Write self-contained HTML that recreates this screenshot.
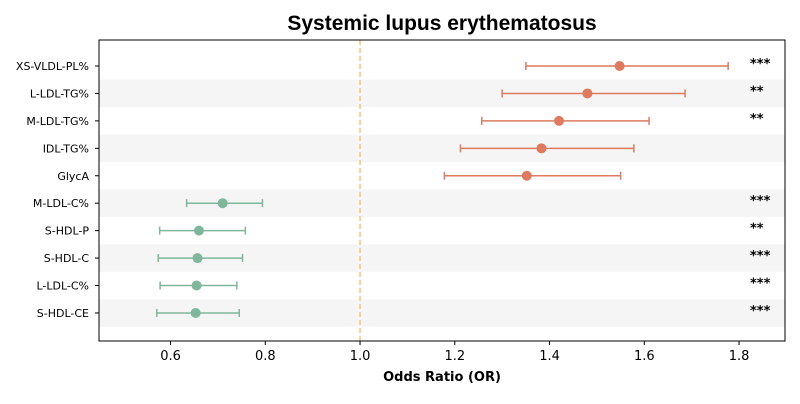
<!DOCTYPE html>
<html><head><meta charset="utf-8"><style>
body{margin:0;background:#fff;font-family:"DejaVu Sans","Liberation Sans",sans-serif;}
</style></head><body>
<svg id="chart" width="800" height="400" xmlns="http://www.w3.org/2000/svg">
<text x="442" y="30" text-anchor="middle" font-size="21" font-weight="bold" font-family="Liberation Sans, sans-serif">Systemic lupus erythematosus</text>
<g id="bg"></g><g id="marks"></g><g id="axes"></g>
<text x="442" y="381" text-anchor="middle" font-size="13" font-weight="bold">Odds Ratio (OR)</text>
</svg>
<script>
const labels=["XS-VLDL-PL%","L-LDL-TG%","M-LDL-TG%","IDL-TG%","GlycA","M-LDL-C%","S-HDL-P","S-HDL-C","L-LDL-C%","S-HDL-CE"];
const orVals=[1.548,1.48,1.42,1.383,1.352,0.71,0.66,0.657,0.655,0.653];
const lower=[1.35,1.30,1.257,1.212,1.178,0.634,0.577,0.574,0.578,0.571];
const upper=[1.777,1.686,1.61,1.578,1.55,0.794,0.758,0.752,0.74,0.745];
const stars=["***","**","**","","","***","**","***","***","***"];
const xTicks=[0.6,0.8,1.0,1.2,1.4,1.6,1.8];
const NS="http://www.w3.org/2000/svg";
const L=99,R=785,T=40,B=341,xmin=0.449,xmax=1.897;
const x=v=>L+(v-xmin)/(xmax-xmin)*(R-L);
const y=i=>66+i*27.44;
function mk(p,tag,a){const e=document.createElementNS(NS,tag);for(const k in a)e.setAttribute(k,a[k]);p.appendChild(e);return e;}
const bg=document.getElementById('bg'),mg=document.getElementById('marks'),ag=document.getElementById('axes');
labels.forEach((l,i)=>{
 if(i%2==1){const s=mk(bg,'rect',{x:L,y:y(i)-13.72,width:R-L,height:27.44,fill:'#f5f5f5'});
 
 }
});
const ref=mk(bg,'line',{x1:x(1),x2:x(1),y1:T,y2:B,stroke:'#f2c777','stroke-width':1.5,'stroke-dasharray':'5,3'});


labels.forEach((l,i)=>{
 const c=orVals[i]>1?'#de7a5e':'#80b69b';const yy=y(i);
 const g=mk(mg,'g',{});
 
 
 mk(g,'line',{x1:x(lower[i]),x2:x(upper[i]),y1:yy,y2:yy,stroke:c,'stroke-width':1.5});
 mk(g,'line',{x1:x(lower[i]),x2:x(lower[i]),y1:yy-4,y2:yy+4,stroke:c,'stroke-width':1.5});
 mk(g,'line',{x1:x(upper[i]),x2:x(upper[i]),y1:yy-4,y2:yy+4,stroke:c,'stroke-width':1.5});
 mk(g,'circle',{cx:x(orVals[i]),cy:yy,r:5,fill:c});
 const t=mk(ag,'text',{x:89,y:yy+4,'text-anchor':'end','font-size':11});t.textContent=l;
 
 
 mk(ag,'line',{x1:L-4,x2:L,y1:yy,y2:yy,stroke:'#000'});
 if(stars[i]){const s=mk(ag,'text',{x:750,y:yy+2,'font-size':13,'font-weight':'bold'});s.textContent=stars[i];
 
 }
});
xTicks.forEach(v=>{
 mk(ag,'line',{x1:x(v),x2:x(v),y1:B,y2:B+4,stroke:'#000'});
 const t=mk(ag,'text',{x:x(v),y:B+19,'text-anchor':'middle','font-size':13});t.textContent=v.toFixed(1);
 
 
});
const fr=mk(ag,'rect',{x:L,y:T,width:R-L,height:B-T,fill:'none',stroke:'#000','stroke-width':1});


</script>
</body></html>
